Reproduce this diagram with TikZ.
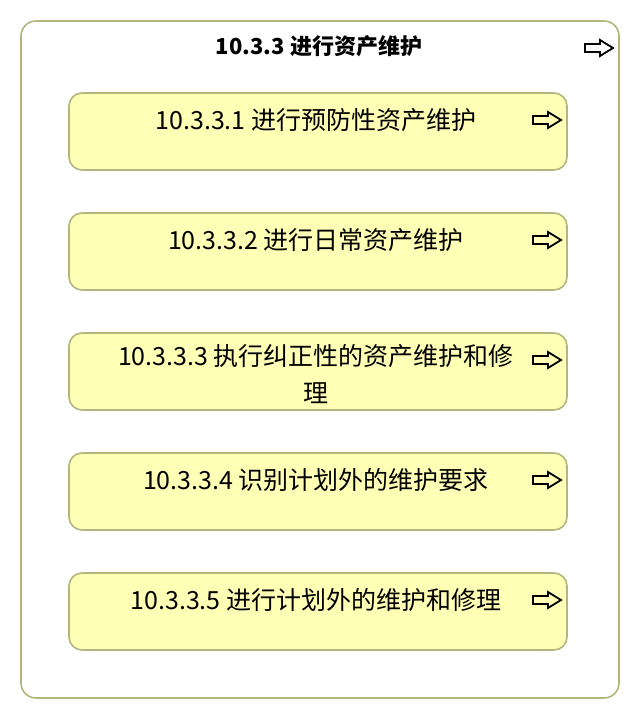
\documentclass[tikz,border=0pt]{standalone}
\usepackage{fontspec}
\setmainfont{Noto Sans CJK SC}
\begin{document}
\begin{tikzpicture}[x=1pt,y=-1pt,
  outerbox/.style={draw=olivebd, line width=1.6pt, fill=white, rounded corners=15pt},
  procbox/.style={draw=olivebd, line width=1.6pt, fill=procfill, rounded corners=13pt},
  lbl/.style={font=\fontsize{25}{37}\selectfont, align=center, inner sep=0pt},
  ttl/.style={font=\bfseries\fontsize{22}{26}\selectfont, inner sep=0pt},
  arr/.style={draw=black, line width=1.8pt, line join=miter}
]
\definecolor{olivebd}{HTML}{B5B57E}
\definecolor{procfill}{HTML}{FFFFB5}
\useasboundingbox (0,0) rectangle (640,720);
\newcommand{\arrowicon}[2]{%
  \draw[arr] (#1,#2-4) -- (#1+15,#2-4) -- (#1+15,#2-8) -- (#1+28,#2) -- (#1+15,#2+8) -- (#1+15,#2+4) -- (#1,#2+4) -- cycle;}
\draw[outerbox] (21,21) rectangle (619,698);
\node[ttl] (title) at (319,46) {10.3.3 进行资产维护};
\arrowicon{585}{48}
\foreach \y/\n in {93/a,213/b,333/c,453/d,573/e}{
  \draw[procbox] (69,\y) rectangle (567,\y+77);
  \coordinate (\n) at (316,\y+27);
  \arrowicon{533}{\y+27}
}
\node[lbl] (ta) at (a) {10.3.3.1 进行预防性资产维护};
\node[lbl] (tb) at (b) {10.3.3.2 进行日常资产维护};
\node[lbl, anchor=north] (tc) at (316,344) {10.3.3.3 执行纠正性的资产维护和修\\理};
\node[lbl] (td) at (d) {10.3.3.4 识别计划外的维护要求};
\node[lbl] (te) at (e) {10.3.3.5 进行计划外的维护和修理};
\end{tikzpicture}
\end{document}
